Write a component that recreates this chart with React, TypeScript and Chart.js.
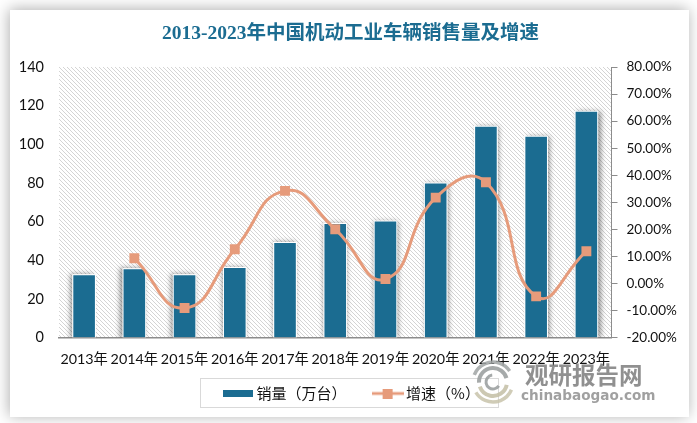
import React, { useEffect, useRef } from "react";
import { Chart, registerables } from "chart.js";

Chart.register(...registerables);

const years = ["2013年", "2014年", "2015年", "2016年", "2017年", "2018年", "2019年", "2020年", "2021年", "2022年", "2023年"];
const sales = [32.7, 35.8, 32.7, 36.5, 49.4, 59.3, 60.5, 80.2, 109.6, 104.4, 117.3];
const growth = [null, 9.3, -9.1, 12.6, 34.2, 20, 1.6, 31.7, 37.4, -4.8, 11.9];
const titleText = "2013-2023年中国机动工业车辆销售量及增速";
const seriesNames = ["销量（万台）", "增速（%）"];

const BLUE = "#1b6c91";
const ORANGE = "#e69b7b";
const AXIS = "#8c8c8c";
const TICK_FONT = 'Lato, "Noto Sans CJK SC", sans-serif';
const CJK = '"Noto Sans CJK SC", sans-serif';

function hatch(ctx: CanvasRenderingContext2D) {
  const c = document.createElement("canvas");
  c.width = 4;
  c.height = 4;
  const g = c.getContext("2d")!;
  g.fillStyle = "#ffffff";
  g.fillRect(0, 0, 4, 4);
  g.fillStyle = "#d4d4d4";
  for (let i = 0; i < 4; i++) g.fillRect(i, i, 1, 1);
  return ctx.createPattern(c, "repeat")!;
}

function barSwatch() {
  const c = document.createElement("canvas");
  c.width = 30;
  c.height = 7;
  const g = c.getContext("2d")!;
  g.fillStyle = BLUE;
  g.fillRect(0, 0, 30, 7);
  return c;
}

function lineSwatch() {
  const c = document.createElement("canvas");
  c.width = 32;
  c.height = 10;
  const g = c.getContext("2d")!;
  g.fillStyle = ORANGE;
  g.fillRect(0, 3.6, 32, 2.8);
  g.fillRect(11, 0, 10, 10);
  return c;
}

const backdrop = {
  id: "backdrop",
  afterLayout(chart: any) {
    chart.legend.left += 3;
    chart.legend.right += 3;
  },
  beforeDraw(chart: any) {
    const { ctx, chartArea: a } = chart;
    ctx.save();
    ctx.fillStyle = "#ffffff";
    ctx.fillRect(0, 0, chart.width, chart.height);
    ctx.shadowColor = "rgba(0,0,0,0.32)";
    ctx.shadowBlur = 14;
    ctx.shadowOffsetX = -1;
    ctx.shadowOffsetY = -1;
    ctx.fillStyle = "#ffffff";
    ctx.fillRect(10, 10, 679, 407);
    ctx.restore();
    ctx.save();
    ctx.fillStyle = hatch(ctx);
    ctx.fillRect(a.left, a.top, a.right - a.left, a.bottom - a.top);
    ctx.restore();
  },
  beforeDatasetDraw(chart: any, args: any) {
    if (args.meta.type !== "bar") return;
    const { ctx, chartArea: a } = chart;
    const mid = (a.left + a.right) / 2;
    ctx.save();
    ctx.beginPath();
    ctx.rect(a.left, a.top - 10, a.right - a.left, a.bottom - a.top + 10);
    ctx.clip();
    ctx.shadowColor = "rgba(0,0,0,0.42)";
    ctx.shadowBlur = 5;
    ctx.fillStyle = "#ffffff";
    args.meta.data.forEach((bar: any) => {
      ctx.shadowOffsetX = ((bar.x - mid) / (a.right - a.left)) * 6;
      ctx.shadowOffsetY = 0;
      ctx.fillRect(bar.x - bar.width / 2, bar.y, bar.width, bar.base - bar.y);
    });
    ctx.restore();
  },
};

const overlay = {
  id: "overlay",
  afterDraw(chart: any) {
    const { ctx } = chart;
    ctx.save();
    ctx.strokeStyle = "#d9d9d9";
    ctx.lineWidth = 1;
    ctx.strokeRect(200.5, 378.5, 298, 29);

    ctx.lineCap = "butt";
    const cx = 493;
    const cy = 382;
    const arcs: [number, number, number, number, string][] = [
      [20, 3.5, 5.7, 3.5, "rgba(160,165,165,0.85)"],
      [14, 3.1, 6.0, 4, "rgba(150,155,155,0.85)"],
      [20, 0.4, 2.6, 3.5, "rgba(200,195,170,0.85)"],
      [14, 0.2, 2.8, 4, "rgba(195,190,165,0.85)"],
      [7, 0.6, 4.6, 3, "rgba(150,155,155,0.85)"],
    ];
    arcs.forEach(([r, s, e, w, col]) => {
      ctx.beginPath();
      ctx.strokeStyle = col;
      ctx.lineWidth = w;
      ctx.arc(cx, cy, r, s, e);
      ctx.stroke();
    });

    ctx.fillStyle = "rgba(125,125,125,0.85)";
    ctx.font = `bold 23.5px ${CJK}`;
    ctx.textAlign = "left";
    ctx.textBaseline = "middle";
    ctx.fillText("观研报告网", 525, 375);
    ctx.fillStyle = "rgba(150,150,150,0.9)";
    ctx.font = 'bold 13.6px "DejaVu Sans", sans-serif';
    ctx.fillText("chinabaogao.com", 521, 396);
    ctx.restore();
  },
};

export default function App() {
  const ref = useRef<HTMLCanvasElement | null>(null);
  useEffect(() => {
    const swatches = [barSwatch(), lineSwatch()];
    const chart = new Chart(ref.current!, {
      type: "bar",
      data: {
        labels: years,
        datasets: [
          {
            type: "line",
            label: seriesNames[1],
            data: growth,
            yAxisID: "y1",
            borderColor: ORANGE,
            backgroundColor: ORANGE,
            borderWidth: 3,
            tension: 0.5,
            pointStyle: "rect",
            pointRadius: 7,
            pointBackgroundColor: ORANGE,
            pointBorderColor: ORANGE,
            pointBorderWidth: 0,
            order: 0,
          },
          {
            type: "bar",
            label: seriesNames[0],
            data: sales,
            yAxisID: "y",
            backgroundColor: BLUE,
            borderColor: "#ffffff",
            borderWidth: { top: 1, left: 1, right: 1, bottom: 0 },
            borderSkipped: false,
            barPercentage: 0.47,
            categoryPercentage: 1,
            order: 1,
          },
        ],
      } as any,
      options: {
        responsive: false,
        animation: false,
        layout: { padding: { top: 0, left: 4, right: 0, bottom: 12 } },
        plugins: {
          tooltip: { enabled: false },
          title: {
            display: true,
            text: titleText,
            color: BLUE,
            font: { family: `"Liberation Serif", ${CJK}`, size: 19.5, weight: "bold" },
            padding: { top: 22, bottom: 21.6 },
          },
          legend: {
            display: true,
            position: "bottom",
            labels: {
              usePointStyle: true,
              pointStyleWidth: 22,
              padding: 30,
              color: "#111111",
              font: { family: CJK, size: 15 },
              generateLabels: () =>
                seriesNames.map((text, i) => ({
                  text,
                  pointStyle: swatches[i],
                  datasetIndex: i,
                  fontColor: "#111111",
                  lineWidth: 0,
                  strokeStyle: "transparent",
                  fillStyle: "transparent",
                })),
            },
          },
        },
        scales: {
          x: {
            grid: { display: false },
            border: { display: true, color: AXIS, width: 1.5 },
            ticks: { color: "#111111", font: { family: TICK_FONT, size: 14.3 }, padding: 5, maxRotation: 0, autoSkip: false },
            afterFit(s: any) {
              s.height = 18.5;
              s._computeLabelArea = () => undefined;
            },
          },
          y: {
            position: "left",
            min: 0,
            max: 140,
            grid: { display: false, drawTicks: false },
            border: { display: false },
            ticks: { stepSize: 20, color: "#111111", font: { family: TICK_FONT, size: 14.5 }, padding: 15 },
            afterFit(s: any) {
              s.width = 55;
            },
          },
          y1: {
            position: "right",
            min: -20,
            max: 80,
            grid: { display: true, drawOnChartArea: false, drawTicks: true, tickLength: 6, tickColor: AXIS },
            border: { display: true, color: AXIS, width: 1 },
            ticks: {
              stepSize: 10,
              color: "#111111",
              font: { family: TICK_FONT, size: 13.5 },
              padding: 9,
              callback: (v: any) => Number(v).toFixed(2) + "%",
            },
            afterFit(s: any) {
              s.width = 85.5;
            },
          },
        },
      },
      plugins: [backdrop, overlay],
    } as any);
    return () => chart.destroy();
  }, []);
  return (
    <div style={{ position: "fixed", inset: 0, background: "#fff" }}>
      <canvas ref={ref} width={697} height={423} style={{ display: "block", width: 697, height: 423 }} />
    </div>
  );
}
